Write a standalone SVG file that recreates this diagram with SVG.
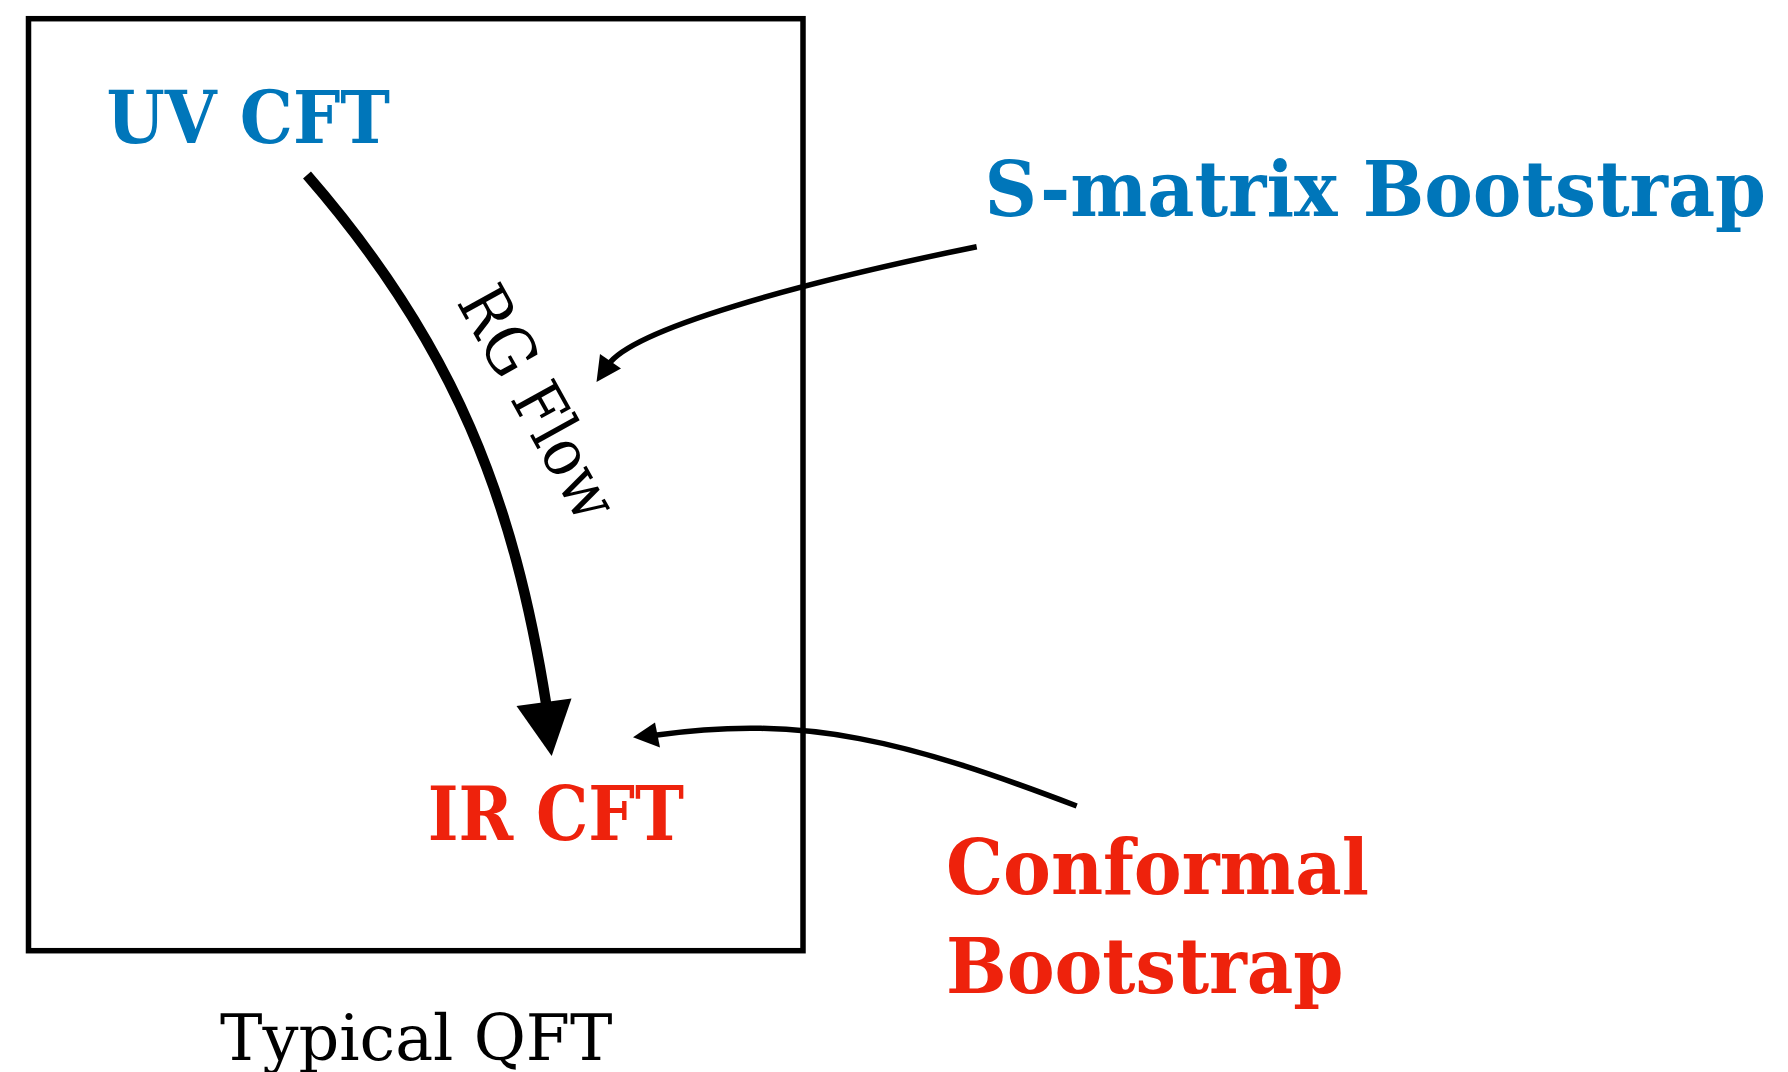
<svg xmlns="http://www.w3.org/2000/svg" width="1788" height="1072" viewBox="0 0 1788 1072">
  <style>
    .lbl { font-family: "DejaVu Serif", "Liberation Serif", serif; }
    .bold { font-family: "DejaVu Serif Condensed", "DejaVu Serif", "Liberation Serif", serif; font-weight: bold; font-stretch: condensed; }
    .blue { fill: #0076BA; }
    .red { fill: #EE220C; }
    .blk { fill: #000000; }
    .frame { fill: none; stroke: #000; stroke-width: 5.5; }
    .conn { fill: none; stroke: #000; stroke-linecap: butt; }
    .head { fill: #000; stroke: none; }
  </style>
  <rect width="1788" height="1072" fill="#ffffff"/>

  <g id="typical-qft">
    <rect class="frame" x="28.5" y="18.7" width="774.5" height="932"/>
    <text class="lbl blk" x="220" y="1059.5" font-size="63" textLength="392.5" lengthAdjust="spacingAndGlyphs">Typical QFT</text>
  </g>

  <g id="uv-cft">
    <text class="bold blue" x="106.5" y="143" font-size="73" textLength="283.5" lengthAdjust="spacingAndGlyphs">UV CFT</text>
  </g>

  <g id="ir-cft">
    <text class="bold red" x="427.7" y="839.5" font-size="74" textLength="256.3" lengthAdjust="spacingAndGlyphs">IR CFT</text>
  </g>

  <g id="s-matrix-bootstrap">
    <text class="bold blue" x="984.5" y="215.5" font-size="77" textLength="781.5" lengthAdjust="spacingAndGlyphs">S-matrix Bootstrap</text>
  </g>

  <g id="conformal-bootstrap">
    <text class="bold red" x="946" y="894" font-size="77" textLength="423" lengthAdjust="spacingAndGlyphs">Conformal</text>
    <text class="bold red" x="946" y="993" font-size="76" textLength="397.5" lengthAdjust="spacingAndGlyphs">Bootstrap</text>
  </g>

  <g id="connectors">
    <!-- RG flow: UV CFT to IR CFT -->
    <path class="conn" stroke-width="10.5" d="M307,175 C455,345 514,500 546.5,706"/>
    <polygon class="head" points="516.5,706 551.7,756 571.5,698.5"/>
    <text class="lbl blk" x="0" y="0" font-size="67" text-anchor="middle" textLength="256" lengthAdjust="spacingAndGlyphs" transform="translate(518,414) rotate(61)">RG Flow</text>

    <!-- S-matrix Bootstrap arrow -->
    <path class="conn" stroke-width="5.5" d="M976.7,246.7 C800.3,282.7 632.4,328.8 608,365"/>
    <polygon class="head" points="600,354 596.5,382 621,368.5"/>

    <!-- Conformal Bootstrap arrow -->
    <path class="conn" stroke-width="5.5" d="M1076.7,806 C908.6,741.9 806,714 655,735.3"/>
    <polygon class="head" points="655,722.5 633,737.3 660,747.5"/>
  </g>
</svg>
